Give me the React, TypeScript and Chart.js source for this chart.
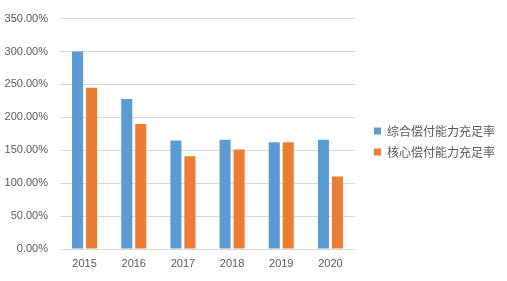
import React, { useEffect, useRef } from "react";
import { Chart, registerables } from "chart.js";

Chart.register(...registerables);

const categories = ["2015", "2016", "2017", "2018", "2019", "2020"];
const seriesNames = ["综合偿付能力充足率", "核心偿付能力充足率"];
const comprehensive = [300, 228, 165, 166, 162, 166];
const core = [245, 190, 141, 151, 162, 110];
const seriesColors = ["#5B9BD5", "#ED7D31"];

export default function App() {
  const ref = useRef<HTMLCanvasElement>(null);
  useEffect(() => {
    document.body.style.margin = "0";
    const font = { family: "'Liberation Sans Narrow', 'Liberation Sans', Arial, sans-serif", size: 11 };
    const chart = new Chart(ref.current!, {
      type: "bar",
      data: {
        labels: categories,
        datasets: [
          { label: seriesNames[0], data: comprehensive, backgroundColor: seriesColors[0], barPercentage: 0.79, categoryPercentage: 0.57 },
          { label: seriesNames[1], data: core, backgroundColor: seriesColors[1], barPercentage: 0.79, categoryPercentage: 0.57 },
        ],
      },
      options: {
        responsive: false,
        animation: false,
        layout: { padding: { top: 13, right: 2, left: 0, bottom: 11 } },
        plugins: {
          tooltip: { enabled: false },
          legend: {
            position: "right",
            maxWidth: 220,
            labels: {
              boxWidth: 7,
              boxHeight: 7,
              padding: 9,
              color: "#595959",
              font: { family: "'Noto Sans CJK SC', sans-serif", size: 12 },
            },
          },
        },
        scales: {
          x: {
            grid: { display: false, drawTicks: false },
            border: { color: "#d9d9d9" },
            ticks: { color: "#595959", font, padding: 8 },
            afterFit: (s: any) => { s.height = 21; },
          },
          y: {
            min: 0,
            max: 350,
            ticks: {
              stepSize: 50,
              color: "#595959",
              font,
              padding: 12,
              callback: (v: any) => Number(v).toFixed(2) + "%",
            },
            grid: { color: "#d9d9d9", drawTicks: false },
            border: { display: false },
            afterFit: (s: any) => { s.width = 60; },
          },
          spacer: {
            type: "linear",
            position: "right",
            display: true,
            grid: { display: false, drawTicks: false },
            border: { display: false },
            ticks: { display: false },
            afterFit: (s: any) => { s.width = 10; },
          },
        },
      },
    });
    return () => chart.destroy();
  }, []);
  return (
    <div style={{ width: 507, height: 281 }}>
      <canvas ref={ref} width={507} height={281} />
    </div>
  );
}
